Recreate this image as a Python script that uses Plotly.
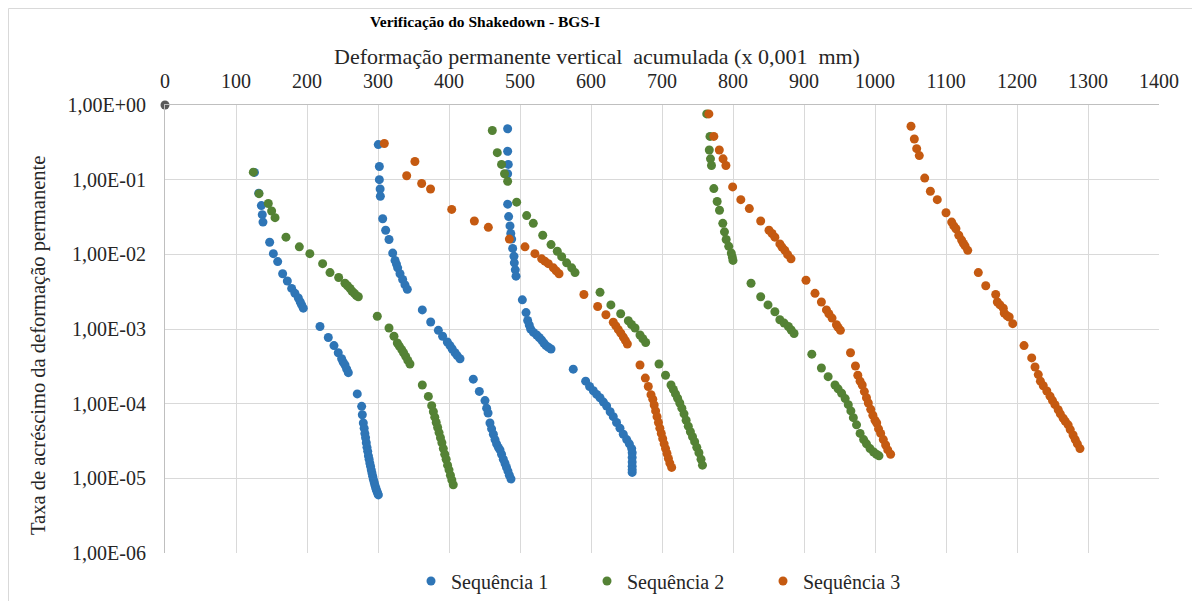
import plotly.graph_objects as go

# ---------------- data ----------------
s1_x = [126, 132, 135.7, 137, 138, 147.4, 152.6, 158.7, 165.7, 172.3, 178.4, 183, 187.8, 190.5, 192.5, 194.8,
        218.3, 230, 238, 244, 248.8, 251, 253.5, 256, 258.2,
        270.8, 277, 277.9, 279.3, 280.5, 281.5, 282.5, 283.5, 284.5, 285.5, 286.5, 287.5, 288.5, 289.5, 290.5,
        291.5, 292.5, 293.5, 294.5, 295.5, 296.5, 297.5, 298.5, 299.5, 300.5,
        300.4, 301.9, 301.9, 303, 303.3, 306.6, 310.8, 315.5, 320.7, 324, 326, 327.7, 331, 334.7, 338, 341.3,
        362.4, 374.2, 385, 391, 397.6, 401.4, 404.5, 408.5, 411.5, 415.5,
        434.2, 442.7, 450.7, 453, 455, 457.7, 460, 462.5, 464.8, 467, 469.5, 471.8, 474, 476.5, 478.9, 481, 483, 485, 487.3,
        482.6, 482.6, 483.5, 482.6, 482.6, 484, 485.9, 487, 488.3, 489.7, 491.5, 492, 493.4, 494.4,
        503.3, 508.5, 510.8, 513, 515, 519, 523.5, 527, 530.5, 533.5, 536.6, 540, 543.7,
        575, 592.5, 598, 603.3, 608, 612.7, 617.5, 622, 627, 631.4, 636, 640.8, 645.5, 650.3, 654, 657.3,
        658, 658, 658, 658, 658, 658]
s1_y = [0.125, 0.066, 0.045, 0.034, 0.027, 0.0145, 0.0102, 0.008, 0.0055, 0.0044, 0.0035, 0.003, 0.0026, 0.0023, 0.0021, 0.0019,
        0.00108, 0.00077, 0.0006, 0.00048, 0.0004, 0.00036, 0.00033, 0.00029, 0.00026,
        0.000135, 9.2e-5, 7.1e-5, 5.5e-5, 4.7e-5, 4.0e-5, 3.5e-5, 3.0e-5, 2.6e-5, 2.3e-5, 2.0e-5, 1.8e-5, 1.6e-5, 1.45e-5, 1.3e-5,
        1.18e-5, 1.07e-5, 9.7e-6, 8.9e-6, 8.2e-6, 7.6e-6, 7.1e-6, 6.7e-6, 6.3e-6, 6.0e-6,
        0.295, 0.15, 0.1, 0.075, 0.06, 0.030, 0.021, 0.0158, 0.0104, 0.0083, 0.0074, 0.0066, 0.0055, 0.0046, 0.0039, 0.0034,
        0.0018, 0.00124, 0.00096, 0.0008, 0.00067, 0.0006, 0.00054, 0.00048, 0.00044, 0.0004,
        0.000213, 0.000146, 0.00011, 8.7e-5, 7.5e-5, 5.5e-5, 4.6e-5, 3.9e-5, 3.3e-5, 2.9e-5, 2.6e-5, 2.4e-5, 2.1e-5, 1.8e-5, 1.58e-5, 1.4e-5, 1.25e-5, 1.1e-5, 9.8e-6,
        0.48, 0.24, 0.16, 0.12, 0.047, 0.032, 0.024, 0.019, 0.016, 0.012, 0.0094, 0.0077, 0.0062, 0.0051,
        0.00246, 0.00166, 0.0013, 0.00113, 0.001, 0.0009, 0.00083, 0.00077, 0.00071, 0.00065, 0.0006, 0.00057, 0.00054,
        0.00029, 0.0002, 0.00017, 0.000149, 0.000133, 0.00012, 0.000105, 9.3e-5, 7.8e-5, 6.7e-5, 5.6e-5, 4.7e-5, 3.9e-5, 3.3e-5, 2.9e-5, 2.5e-5,
        2.2e-5, 1.9e-5, 1.65e-5, 1.45e-5, 1.3e-5, 1.2e-5]

s2_x = [124.4, 132.4, 145.5, 150.2, 155, 170.4, 189.2, 204, 222, 232.4, 244.6, 253.5, 257, 260.6, 263.5, 266.7, 269.5, 272.3,
        299, 315.5, 322.5, 327.2, 330, 333.4, 336, 339, 342, 345,
        362.4, 370.9, 375.6, 378, 380, 382, 384, 386, 388, 390, 392, 394, 396, 398, 400, 402, 404, 406,
        461, 468, 474, 478.2, 482.6, 495.3, 509.4, 518.7, 532, 543.7, 552.5, 558.7, 565.7, 572.8, 577.5,
        612.7, 628, 641.8, 652.6, 657, 662, 669, 673, 677,
        695.8, 705, 712.7, 716, 719, 722, 725, 728, 731, 734, 737, 740, 743, 746, 749, 752, 755, 757,
        763, 767.6, 766.6, 768.3, 769.7, 773, 777.7, 781, 785.6, 788, 790.4, 794, 797.6, 799, 800,
        825.4, 839, 849.3, 859, 866, 872, 878, 882, 886,
        911, 924.5, 934, 943.7, 948, 953, 958, 962.4, 966, 969.5, 974, 979, 984, 988, 993, 998, 1002, 1005.6]
s2_y = [0.126, 0.065, 0.048, 0.038, 0.031, 0.017, 0.0126, 0.0102, 0.0075, 0.0057, 0.0049, 0.0041, 0.0038, 0.0035, 0.0032, 0.003, 0.0028, 0.0027,
        0.00148, 0.00103, 0.0008, 0.00065, 0.00059, 0.00053, 0.00048, 0.00043, 0.00038, 0.00034,
        0.000178, 0.000125, 9.4e-5, 7.8e-5, 6.6e-5, 5.6e-5, 4.8e-5, 4.1e-5, 3.5e-5, 3.0e-5, 2.5e-5, 2.1e-5, 1.8e-5, 1.5e-5, 1.3e-5, 1.1e-5, 9.5e-6, 8.2e-6,
        0.455, 0.23, 0.16, 0.12, 0.095, 0.05, 0.033, 0.026, 0.018, 0.0135, 0.011, 0.0093, 0.0077, 0.0066, 0.0057,
        0.0031, 0.0021, 0.0016, 0.00129, 0.00115, 0.00103, 0.00083, 0.00074, 0.00066,
        0.00034, 0.00024, 0.000178, 0.000155, 0.000135, 0.000118, 0.000102, 8.7e-5, 7.3e-5, 6.0e-5, 5.0e-5, 4.2e-5, 3.6e-5, 3.1e-5, 2.6e-5, 2.2e-5, 1.8e-5, 1.5e-5,
        0.76, 0.38, 0.25, 0.19, 0.155, 0.076, 0.051, 0.039, 0.026, 0.02, 0.0158, 0.0128, 0.0104, 0.0092, 0.0083,
        0.0041, 0.0027, 0.0021, 0.0017, 0.00133, 0.0012, 0.00108, 0.00097, 0.00087,
        0.00046, 0.0003, 0.00023, 0.000178, 0.000158, 0.000138, 0.000117, 9.7e-5, 8.0e-5, 6.5e-5, 5.2e-5, 4.0e-5, 3.3e-5, 2.9e-5, 2.5e-5, 2.25e-5, 2.1e-5, 2.0e-5]

s3_x = [308.9, 340.4, 352, 361.5, 374, 403.8, 435.7, 455.4, 485, 507, 521, 530.5, 535, 539.9, 547, 551, 555,
        590, 609.4, 621, 631.4, 635, 638.5, 642, 645.5, 648.5, 651.2,
        669, 676.5, 680.7, 684.5, 687, 689, 691, 693, 695, 697, 699, 701, 703, 705, 707, 709, 711, 713.6,
        766, 773, 780.7, 786, 790, 799.5, 811, 823, 839, 850.7, 855, 859, 866, 869, 873, 877, 881.7,
        902.8, 915.5, 924.5, 931.6, 935, 939.5, 945.7, 948, 951.3,
        965.5, 972.5, 975.8, 979, 982, 985, 988, 990.6, 994, 997, 1000, 1002.4, 1005, 1008, 1011.7, 1015, 1018, 1022,
        1050.7, 1055.4, 1058.7, 1062.4, 1070, 1078, 1087.7, 1100, 1108, 1111, 1114, 1118, 1122, 1124.5, 1126.8, 1130.6,
        1145.5, 1156, 1170, 1172.3, 1176, 1180.7, 1182, 1186, 1189, 1194,
        1209.9, 1220.7, 1225.4, 1230, 1233, 1237, 1242, 1246.5, 1250, 1253.5, 1258, 1261, 1265, 1268, 1272, 1275, 1279, 1282, 1285, 1288.7]
s3_y = [0.305, 0.113, 0.175, 0.089, 0.075, 0.04, 0.028, 0.023, 0.016, 0.0126, 0.0102, 0.0087, 0.0081, 0.0075, 0.0066, 0.006, 0.0055,
        0.0029, 0.002, 0.00155, 0.00123, 0.0011, 0.00098, 0.00088, 0.00078, 0.0007, 0.00063,
        0.00033, 0.00022, 0.00017, 0.000132, 0.000115, 9.6e-5, 8.0e-5, 6.7e-5, 5.6e-5, 4.7e-5, 4.0e-5, 3.4e-5, 2.9e-5, 2.5e-5, 2.15e-5, 1.85e-5, 1.6e-5, 1.4e-5,
        0.76, 0.38, 0.25, 0.19, 0.155, 0.08, 0.054, 0.041, 0.028, 0.021, 0.019, 0.017, 0.0138, 0.0125, 0.0113, 0.0099, 0.0087,
        0.0045, 0.003, 0.0023, 0.0018, 0.0016, 0.0014, 0.00114, 0.00105, 0.00096,
        0.00048, 0.00032, 0.00024, 0.0002, 0.000178, 0.000145, 0.00012, 0.000102, 8.4e-5, 7.0e-5, 6.0e-5, 5.5e-5, 4.6e-5, 4.0e-5, 3.3e-5, 2.8e-5, 2.4e-5, 2.1e-5,
        0.52, 0.35, 0.26, 0.21, 0.105, 0.07, 0.054, 0.036, 0.027, 0.024, 0.022, 0.018, 0.0155, 0.014, 0.013, 0.0113,
        0.0057, 0.0038, 0.0029, 0.0023, 0.0021, 0.0019, 0.00164, 0.0015, 0.00145, 0.00118,
        0.0006, 0.00041, 0.00031, 0.000245, 0.0002, 0.000174, 0.000148, 0.000126, 0.00011, 9.7e-5, 8.3e-5, 7.3e-5, 6.4e-5, 5.8e-5, 5.2e-5, 4.5e-5, 3.8e-5, 3.3e-5, 2.9e-5, 2.5e-5]

origin_x = [0]
origin_y = [1]

series_names = ["Sequência 1", "Sequência 2", "Sequência 3"]
x_ticks = list(range(0, 1401, 100))
y_tickvals = [1, 1e-1, 1e-2, 1e-3, 1e-4, 1e-5, 1e-6]
y_ticktext = ["1,00E+00", "1,00E-01", "1,00E-02", "1,00E-03", "1,00E-04", "1,00E-05", "1,00E-06"]

title_text = "Verificação do Shakedown - BGS-I"
x_title = "Deformação permanente vertical  acumulada (x 0,001  mm)"
y_title = "Taxa de acréscimo da deformação permanente"

# ---------------- figure ----------------
FONT = "Liberation Serif"
colors = ["#2E75B6", "#548235", "#C55A11"]
TXT = "#262626"

# the page body has an 8px margin: figure coords = window coords - 8
OFF = 8
FW, FH = 1200 - OFF, 601 - OFF
# plot-area geometry in window pixels
L, R, T, B = 165, 1159, 105, 553
W_, H_ = R - L, B - T


def px_x(px):
    return (px - L) / W_


def px_y(py):
    return (B - py) / H_


fig = go.Figure()
for xs, ys, name, c in zip([s1_x, s2_x, s3_x], [s1_y, s2_y, s3_y], series_names, colors):
    fig.add_trace(go.Scatter(x=xs, y=ys, mode="markers", name=name,
                             marker=dict(color=c, size=9, line=dict(width=0))))
fig.add_trace(go.Scatter(x=origin_x, y=origin_y, mode="markers", showlegend=False,
                         marker=dict(color="#595959", size=9), cliponaxis=False))

fig.update_layout(
    width=FW, height=FH,
    margin=dict(l=L - OFF, r=FW - (R - OFF), t=T - OFF, b=FH - (B - OFF), autoexpand=False),
    paper_bgcolor="white", plot_bgcolor="white",
    font=dict(family=FONT, size=20, color=TXT),
    showlegend=True,
    legend=dict(orientation="h", xref="container", yref="container",
                x=403 / FW, xanchor="left", y=1 - (581 - OFF) / FH, yanchor="middle",
                font=dict(family=FONT, size=20, color=TXT),
                entrywidth=131, entrywidthmode="pixels", itemwidth=30),
    xaxis=dict(side="top", range=[0, 1400], tickvals=x_ticks, showgrid=True,
               gridcolor="#d9d9d9", gridwidth=1, showline=True, linecolor="#bfbfbf",
               linewidth=1, zeroline=False, ticks="", ticklabelstandoff=8, automargin=False,
               tickfont=dict(family=FONT, size=20, color=TXT)),
    yaxis=dict(type="log", range=[-6, 0], tickvals=y_tickvals, ticktext=y_ticktext,
               showgrid=True, gridcolor="#d9d9d9", gridwidth=1, showline=True,
               linecolor="#bfbfbf", linewidth=1, zeroline=False, ticks="",
               ticklabelstandoff=14, automargin=False,
               tickfont=dict(family=FONT, size=20, color=TXT)),
    annotations=[
        dict(text="<b>" + title_text + "</b>", xref="paper", yref="paper",
             x=px_x(485), y=px_y(22), xanchor="center", yanchor="middle",
             showarrow=False, font=dict(family=FONT, size=15.5, color="#000000")),
        dict(text=x_title, xref="paper", yref="paper",
             x=px_x(597), y=px_y(57), xanchor="center", yanchor="middle",
             showarrow=False, font=dict(family=FONT, size=22, color=TXT)),
        dict(text=y_title, xref="paper", yref="paper", textangle=-90,
             x=px_x(38), y=px_y(346), xanchor="center", yanchor="middle",
             showarrow=False, font=dict(family=FONT, size=20.5, color=TXT)),
    ],
    shapes=[
        dict(type="line", xref="paper", yref="paper", x0=px_x(8.5), x1=px_x(1200),
             y0=px_y(8.5), y1=px_y(8.5), line=dict(color="#d9d9d9", width=1)),
        dict(type="line", xref="paper", yref="paper", x0=px_x(8.5), x1=px_x(8.5),
             y0=px_y(8.5), y1=px_y(601), line=dict(color="#d9d9d9", width=1)),
    ],
)

fig.write_html("out.html")
